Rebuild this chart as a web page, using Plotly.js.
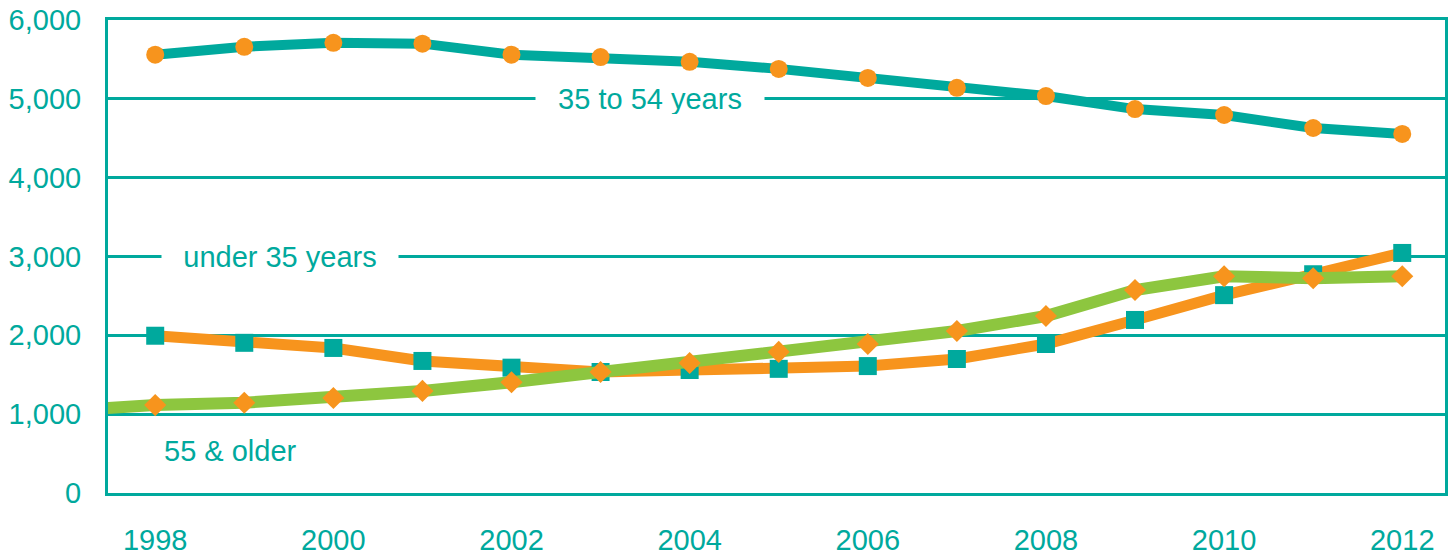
<!DOCTYPE html>
<html>
<head>
<meta charset="utf-8">
<script src="https://cdn.plot.ly/plotly-3.0.1.min.js"></script>
<style>
  html, body { margin: 0; padding: 0; background: #fff; }
  #chart { width: 1453px; height: 556px; }
</style>
</head>
<body>
<div id="chart"></div>
<script>
// Households by age of head, 1998-2012
const years = [1998, 1999, 2000, 2001, 2002, 2003, 2004, 2005, 2006, 2007, 2008, 2009, 2010, 2011, 2012];
const age35to54 = [5560, 5660, 5710, 5700, 5560, 5530, 5470, 5380, 5265, 5140, 5035, 4870, 4795, 4630, 4555];
const under35 = [1995, 1905, 1840, 1675, 1590, 1535, 1560, 1575, 1610, 1700, 1890, 2195, 2510, 2775, 3045];
const older55 = [1115, 1145, 1205, 1295, 1405, 1535, 1650, 1790, 1890, 2055, 2245, 2575, 2750, 2725, 2750];
// the 55 & older line carries on past the first marker to the left edge
const older55LineYears = [1997].concat(years);
const older55Line = [1045].concat(older55);

const yTicks = [0, 1000, 2000, 3000, 4000, 5000, 6000];
const xTicks = [1998, 2000, 2002, 2004, 2006, 2008, 2010, 2012];

const TEAL = '#00A99D';
const ORANGE = '#F7941D';
const GREEN = '#8DC63F';
const FONT = 'Liberation Sans, Arial, sans-serif';
const FS = 29;

const traces = [
  // under 35: orange line, teal squares
  { x: years, y: under35, mode: 'lines', line: { color: ORANGE, width: 11 }, hoverinfo: 'skip' },
  { x: years, y: under35, mode: 'markers', marker: { symbol: 'square', color: TEAL, size: 18 }, hoverinfo: 'skip' },
  // 55 & older: green line, orange diamonds
  { x: older55LineYears, y: older55Line, mode: 'lines', line: { color: GREEN, width: 12 }, hoverinfo: 'skip' },
  { x: years, y: older55, mode: 'markers', marker: { symbol: 'diamond', color: ORANGE, size: 17 }, hoverinfo: 'skip' },
  // 35 to 54: teal line, orange circles
  { x: years, y: age35to54, mode: 'lines', line: { color: TEAL, width: 10 }, hoverinfo: 'skip' },
  { x: years, y: age35to54, mode: 'markers', marker: { symbol: 'circle', color: ORANGE, size: 18 }, hoverinfo: 'skip' }
];

const layout = {
  width: 1453,
  height: 556,
  margin: { l: 108, r: 8, t: 20, b: 63 },
  paper_bgcolor: '#fff',
  plot_bgcolor: '#fff',
  showlegend: false,
  font: { family: FONT, color: TEAL, size: FS },
  xaxis: {
    range: [1997.47, 2012.48],
    tickvals: xTicks,
    ticktext: xTicks.map(String),
    showgrid: false,
    zeroline: false,
    showline: true,
    linecolor: TEAL,
    linewidth: 3,
    mirror: true,
    ticks: '',
    ticklabelstandoff: 19,
    tickfont: { family: FONT, color: TEAL, size: FS }
  },
  yaxis: {
    range: [0, 6000],
    tickvals: yTicks,
    tickformat: ',',
    showgrid: true,
    gridcolor: TEAL,
    gridwidth: 3,
    zeroline: false,
    showline: true,
    linecolor: TEAL,
    linewidth: 3,
    mirror: true,
    ticks: '',
    ticklabelstandoff: 18,
    tickfont: { family: FONT, color: TEAL, size: FS }
  },
  annotations: [
    { x: 2003.55, y: 5000, xref: 'x', yref: 'y', text: '35 to 54 years', showarrow: false,
      bgcolor: '#fff', width: 228, height: 30, borderpad: 0,
      font: { family: FONT, color: TEAL, size: FS } },
    { x: 1999.4, y: 3000, xref: 'x', yref: 'y', text: 'under 35 years', showarrow: false,
      bgcolor: '#fff', width: 236, height: 30, borderpad: 0,
      font: { family: FONT, color: TEAL, size: FS } },
    { x: 1998.85, y: 535, xref: 'x', yref: 'y', text: '55 & older', showarrow: false,
      font: { family: FONT, color: TEAL, size: FS } }
  ]
};

Plotly.newPlot('chart', traces, layout, { displayModeBar: false, staticPlot: true });
</script>
</body>
</html>
